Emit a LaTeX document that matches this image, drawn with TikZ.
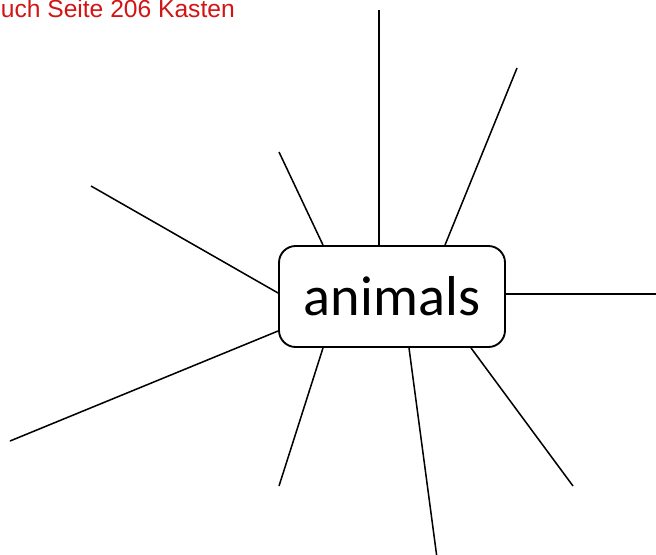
\documentclass[tikz,border=0pt]{standalone}
\usepackage{fontspec}
\setmainfont{Carlito}
\newfontfamily\notefont{Liberation Sans}
\definecolor{notered}{RGB}{210,20,20}
\begin{document}
\begin{tikzpicture}[x=0.03cm, y=-0.03cm,
    topic/.style={draw, line width=1.6pt, rounded corners=0.5cm, minimum width=6.78cm, minimum height=3.03cm, inner sep=0pt, font=\fontsize{48}{56}\selectfont},
    branch/.style={line width=1.3pt}]
    \useasboundingbox (0,0) rectangle (656,554);
    \node[anchor=base east, text=notered, font=\notefont\fontsize{21}{25}\selectfont, inner sep=0pt] (note) at (235,17) {uch Seite 206 Kasten};
    \node[topic] (animals) at (392,296.5) {animals};
    % free ends of the branches
    \coordinate (n1) at (379,10);
    \coordinate (n2) at (517,68);
    \coordinate (n3) at (279,152);
    \coordinate (n4) at (91,186);
    \coordinate (n5) at (10,441);
    \coordinate (n6) at (660,294);
    \coordinate (n7) at (279,486);
    \coordinate (n8) at (437,558);
    \coordinate (n9) at (573,486);
    \draw[branch] ([shift={(-13,0)}]animals.north) -- (n1);
    \draw[branch] ([shift={(53,0)}]animals.north) -- (n2);
    \draw[branch] ([shift={(-69,0)}]animals.north) -- (n3);
    \draw[branch] ([shift={(0,-3.5)}]animals.west) -- (n4);
    \draw[branch] ([shift={(0,34.5)}]animals.west) -- (n5);
    \draw[branch] ([shift={(0,-2.5)}]animals.east) -- (n6);
    \draw[branch] ([shift={(-69,0)}]animals.south) -- (n7);
    \draw[branch] ([shift={(17,0)}]animals.south) -- (n8);
    \draw[branch] ([shift={(79,0)}]animals.south) -- (n9);
\end{tikzpicture}
\end{document}
